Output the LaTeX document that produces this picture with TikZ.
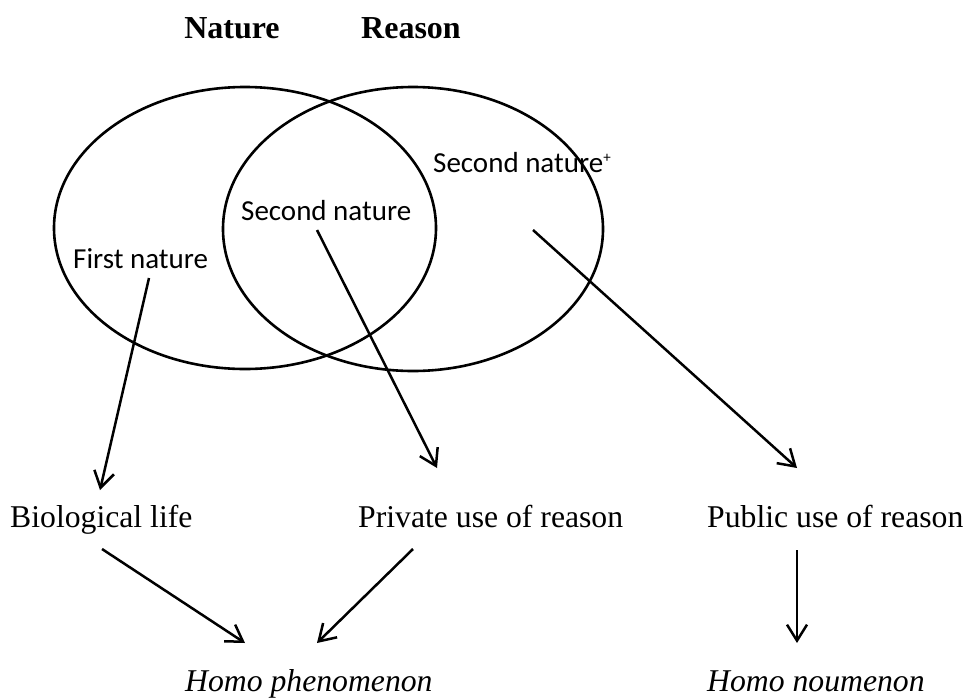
\documentclass[tikz,border=0pt]{standalone}
\usepackage{fontspec}
\setmainfont{Liberation Serif}
\newfontfamily\calfont{Carlito}
\usetikzlibrary{arrows.meta}
\tikzset{
  ring/.style={line width=2.6pt},
  conn/.style={line width=2.5pt, -{Straight Barb[length=16pt,width=20pt,line width=2.5pt]}},
  head/.style={font=\fontsize{32}{36}\selectfont\bfseries, inner sep=0pt, anchor=base},
  inlabel/.style={font=\calfont\fontsize{29}{34}\selectfont, inner sep=0pt, anchor=base west},
  outlabel/.style={font=\fontsize{31.7}{36}\selectfont, inner sep=0pt, anchor=base west},
}
\begin{document}
\begin{tikzpicture}[x=1pt,y=-1pt]
\useasboundingbox (0,0) rectangle (967,697);
% headers
\node[head] (nature) at (232,38) {Nature};
\node[head] (reason) at (411,38) {Reason};
% ellipses
\draw[ring] (245,228) ellipse [x radius=191pt, y radius=141pt];
\draw[ring] (413,229) ellipse [x radius=190pt, y radius=142pt];
% inner labels
\node[inlabel] (first) at (73,268) {First nature};
\node[inlabel] (second) at (241,220) {Second nature};
\node[inlabel] (secondplus) at (433,172) {Second nature\raisebox{10pt}{\fontsize{15}{15}\selectfont +}};
% middle labels
\node[outlabel] (bio) at (10,527) {Biological life};
\node[outlabel] (private) at (358,527) {Private use of reason};
\node[outlabel] (public) at (707,527) {Public use of reason};
% bottom labels
\node[outlabel] (phen) at (185,691) {\itshape Homo phenomenon};
\node[outlabel] (noum) at (707,691) {\itshape Homo noumenon};
% connector end points
\coordinate (c1s) at (149,278); \coordinate (c1e) at (100,490);
\coordinate (c2s) at (317,230); \coordinate (c2e) at (437,468);
\coordinate (c3s) at (533,230); \coordinate (c3e) at (797,468);
\coordinate (c4s) at (102,549); \coordinate (c4e) at (245,643);
\coordinate (c5s) at (413,549); \coordinate (c5e) at (317,643);
\coordinate (c6s) at (797,550); \coordinate (c6e) at (797,643);
\draw[conn] (c1s) -- (c1e);
\draw[conn] (c2s) -- (c2e);
\draw[conn] (c3s) -- (c3e);
\draw[conn] (c4s) -- (c4e);
\draw[conn] (c5s) -- (c5e);
\draw[conn] (c6s) -- (c6e);
\end{tikzpicture}
\end{document}
